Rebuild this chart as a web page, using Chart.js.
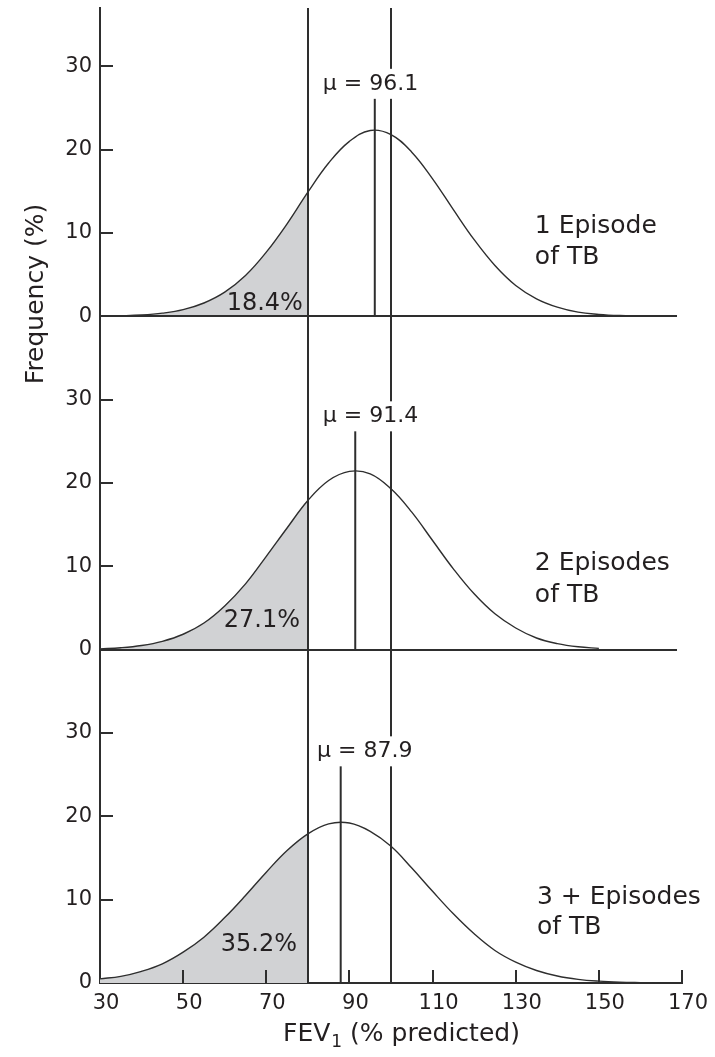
<!DOCTYPE html>
<html>
<head>
<meta charset="utf-8">
<script src="https://cdn.jsdelivr.net/npm/chart.js@4.4.1/dist/chart.umd.min.js"></script>
<style>
  body { margin: 0; background: #fff; }
  #wrap { width: 715px; height: 1057px; }
</style>
</head>
<body>
<div id="wrap"><canvas id="grafik" width="715" height="1057"></canvas></div>
<script>
// FEV1 (% predicted), one point every 5 units
const fevX = [30, 35, 40, 45, 50, 55, 60, 65, 70, 75, 80, 85, 90, 95, 100,
  105, 110, 115, 120, 125, 130, 135, 140, 145, 150, 155, 160, 165, 170];

// frequency (%)
const satuEpisode = [0.02, 0.07, 0.16, 0.38, 0.8, 1.6, 2.9, 4.9, 7.7, 11.1, 14.9, 18.4, 21.0, 22.3, 21.8,
  19.7, 16.5, 12.8, 9.2, 6.1, 3.7, 2.1, 1.1, 0.5, 0.24, 0.1, 0.04, null, null];
const duaEpisode = [0.1, 0.23, 0.5, 1.0, 1.85, 3.2, 5.25, 7.9, 11.2, 14.6, 17.9, 20.3, 21.4, 21.1, 19.3,
  16.5, 13.1, 9.7, 6.7, 4.3, 2.6, 1.4, 0.73, 0.35, 0.16, null, null, null, null];
const tigaEpisode = [0.5, 0.8, 1.4, 2.3, 3.7, 5.5, 7.85, 10.5, 13.3, 15.9, 17.9, 19.1, 19.2, 18.2, 16.4,
  13.8, 11.0, 8.3, 5.9, 3.9, 2.5, 1.5, 0.84, 0.44, 0.22, 0.1, 0.05, 0.02, 0.01];

const rataRata = [96.1, 91.4, 87.9];
const tinggiGarisRata = [26.4, 26.3, 26.5];
const persenBawah = ["18.4%", "27.1%", "35.2%"];
const labelPanel = [["1 Episode", "of TB"], ["2 Episodes", "of TB"], ["3 + Episodes", "of TB"]];
const batasShade = 80;
const garisAcuan = [80, 100];

const xTicks = [30, 50, 70, 90, 110, 130, 150, 170];
const yTicks = [0, 10, 20, 30];

const warnaGaris = "#2e2e2e";
const warnaTeks = "#231f20";
const warnaShade = "#d1d2d4";
const fontUtama = "'DejaVu Sans', sans-serif";

const panelAxis = ["y1", "y2", "y3"];
const seriPanel = [satuEpisode, duaEpisode, tigaEpisode];

function titik(vals) {
  return fevX.map((x, i) => ({ x: x, y: vals[i] })).filter(p => p.y !== null);
}

const datasets = [];
seriPanel.forEach((vals, i) => {
  datasets.push({
    data: titik(vals),
    yAxisID: panelAxis[i],
    borderColor: warnaGaris,
    borderWidth: 1.4,
    pointRadius: 0,
    tension: 0.4,
    fill: "origin",
    backgroundColor: warnaShade,
    // only the left tail (below 80) is shaded
    segment: {
      backgroundColor: c => c.p0.parsed.x < batasShade ? warnaShade : "rgba(0,0,0,0)"
    }
  });
  datasets.push({
    data: [{ x: rataRata[i], y: 0 }, { x: rataRata[i], y: tinggiGarisRata[i] }],
    yAxisID: panelAxis[i],
    borderColor: warnaGaris,
    borderWidth: 2,
    pointRadius: 0,
    fill: false
  });
});

// positions of the text labels, in data units of each panel
const posMu = [{ x: 83.6, y: 27.9 }, { x: 83.6, y: 28.0 }, { x: 82.2, y: 27.8 }];
const posPersen = [{ x: 78.8, y: 1.45 }, { x: 78.1, y: 3.5 }, { x: 77.4, y: 4.6 }];
const posLabel = [{ x: 134.6, y: [10.8, 7.1] }, { x: 134.6, y: [10.3, 6.5] }, { x: 135.1, y: [10.3, 6.7] }];

function garis(ctx, x1, y1, x2, y2) {
  ctx.beginPath();
  ctx.moveTo(x1, y1);
  ctx.lineTo(x2, y2);
  ctx.stroke();
}

const anotasi = {
  id: "anotasi",
  afterDatasetsDraw(chart) {
    const { ctx, chartArea, scales } = chart;
    const sx = scales.x;
    ctx.save();
    ctx.strokeStyle = warnaGaris;
    ctx.lineWidth = 2;

    // zero lines of the upper two panels
    ["y1", "y2"].forEach(id => {
      const y0 = Math.round(scales[id].getPixelForValue(0));
      garis(ctx, chartArea.left, y0, sx.getPixelForValue(168.8), y0);
    });

    // inner tick marks
    panelAxis.forEach(id => {
      yTicks.filter(v => v > 0).forEach(v => {
        const py = Math.round(scales[id].getPixelForValue(v));
        garis(ctx, chartArea.left, py, chartArea.left + 13, py);
      });
    });
    xTicks.filter(v => v > 30).forEach(v => {
      const px = Math.round(sx.getPixelForValue(v));
      garis(ctx, px, chartArea.bottom, px, chartArea.bottom - 13);
    });

    // vertical reference lines through all panels
    garisAcuan.forEach(v => {
      const px = Math.round(sx.getPixelForValue(v));
      garis(ctx, px, chartArea.top, px, chartArea.bottom);
    });

    ctx.fillStyle = warnaTeks;
    panelAxis.forEach((id, i) => {
      const sy = scales[id];

      // mean label, on white so it breaks the line behind it
      ctx.font = "22px " + fontUtama;
      ctx.textAlign = "left";
      ctx.textBaseline = "middle";
      const teksMu = "\u03bc = " + rataRata[i];
      const mx = sx.getPixelForValue(posMu[i].x);
      const my = sy.getPixelForValue(posMu[i].y);
      const w = ctx.measureText(teksMu).width;
      ctx.fillStyle = "#fff";
      ctx.fillRect(mx - 2, my - 15, w + 4, 30);
      ctx.fillStyle = warnaTeks;
      ctx.fillText(teksMu, mx, my);

      // share below 80
      ctx.font = "24px " + fontUtama;
      ctx.textAlign = "right";
      ctx.fillText(persenBawah[i], sx.getPixelForValue(posPersen[i].x), sy.getPixelForValue(posPersen[i].y));

      // panel label
      ctx.font = "25px " + fontUtama;
      ctx.textAlign = "left";
      labelPanel[i].forEach((baris, j) => {
        ctx.fillText(baris, sx.getPixelForValue(posLabel[i].x), sy.getPixelForValue(posLabel[i].y[j]));
      });
    });

    // y title
    ctx.save();
    ctx.translate(36, 294);
    ctx.rotate(-Math.PI / 2);
    ctx.font = "25px " + fontUtama;
    ctx.textAlign = "center";
    ctx.textBaseline = "middle";
    ctx.fillText("Frequency (%)", 0, 0);
    ctx.restore();

    // x title with subscript
    const fBesar = "25px " + fontUtama;
    const fKecil = "17px " + fontUtama;
    ctx.textAlign = "left";
    ctx.textBaseline = "alphabetic";
    ctx.font = fBesar;
    const w1 = ctx.measureText("FEV").width;
    const w3 = ctx.measureText(" (% predicted)").width;
    ctx.font = fKecil;
    const w2 = ctx.measureText("1").width;
    const tx = (chartArea.left + chartArea.right) / 2 + 10 - (w1 + w2 + w3) / 2;
    const ty = 1041;
    ctx.font = fBesar;
    ctx.fillText("FEV", tx, ty);
    ctx.font = fKecil;
    ctx.fillText("1", tx + w1 + 1, ty + 6);
    ctx.font = fBesar;
    ctx.fillText(" (% predicted)", tx + w1 + w2 + 1, ty);
    ctx.restore();
  }
};

function skalaY(maks, bobot) {
  return {
    type: "linear",
    position: "left",
    stack: "panel",
    stackWeight: bobot,
    min: 0,
    max: maks,
    grid: { display: false, drawTicks: false },
    border: { display: true, color: warnaGaris, width: 2 },
    ticks: { color: warnaTeks, font: { size: 21, family: fontUtama }, padding: 8 },
    afterBuildTicks: s => { s.ticks = yTicks.map(v => ({ value: v })); },
    afterFit: s => {
      s.width = 100;
      s.paddingTop = 0;
      s.paddingBottom = 0;
    }
  };
}

Chart.defaults.font.family = fontUtama;

new Chart(document.getElementById("grafik"), {
  type: "line",
  data: { datasets: datasets },
  plugins: [anotasi],
  options: {
    responsive: false,
    animation: false,
    layout: { padding: { top: 8, right: 33, bottom: 0, left: 0 } },
    plugins: { legend: { display: false }, tooltip: { enabled: false } },
    scales: {
      x: {
        type: "linear",
        min: 30,
        max: 170,
        grid: { display: false, drawTicks: false },
        border: { display: true, color: warnaGaris, width: 2 },
        ticks: { color: warnaTeks, font: { size: 21, family: fontUtama }, padding: 8, labelOffset: 6 },
        afterBuildTicks: s => { s.ticks = xTicks.map(v => ({ value: v })); },
        afterFit: s => { s.height = 74; }
      },
      // defined bottom-up: the last stacked axis is placed on top
      y3: skalaY(40, 40),
      y2: skalaY(40, 40),
      y1: skalaY(37, 37)
    }
  }
});
</script>
</body>
</html>
